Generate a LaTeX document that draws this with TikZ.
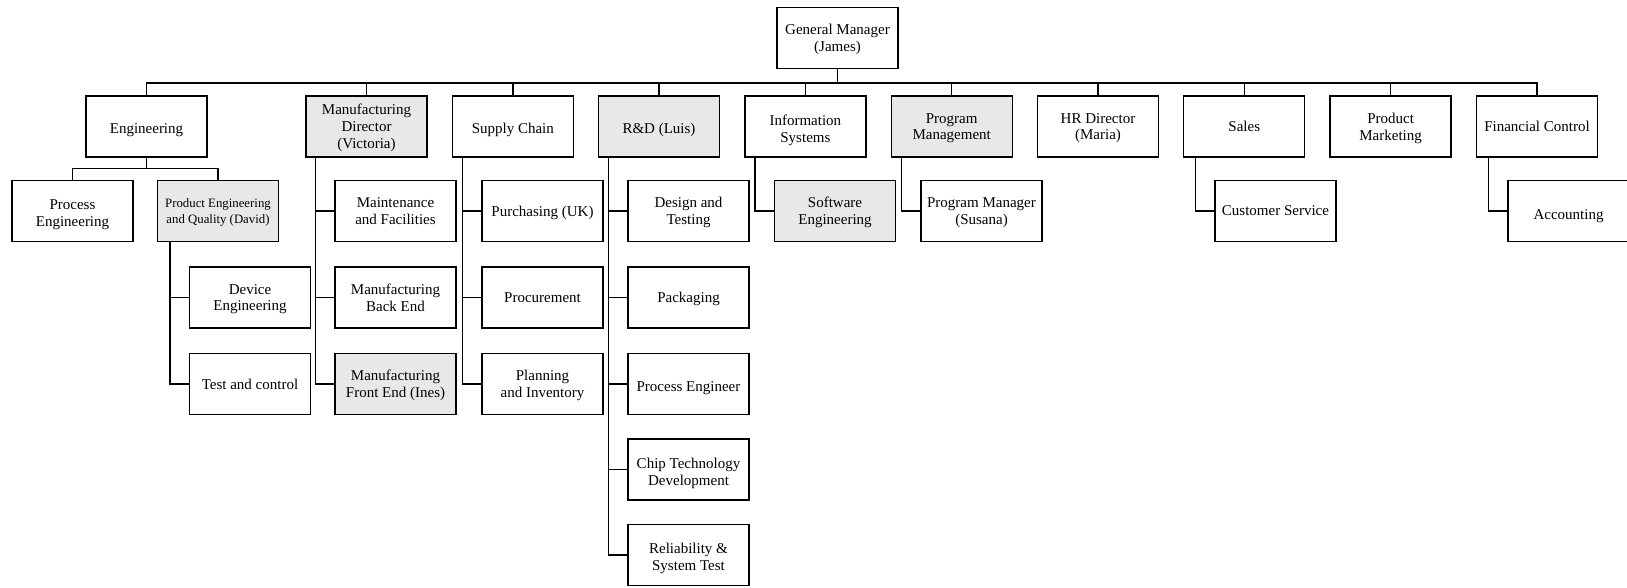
\documentclass[tikz,border=0pt]{standalone}
\usepackage{fontspec}
\setmainfont{Liberation Serif}
\definecolor{boxgray}{HTML}{E8E8E8}
\tikzset{
  unit/.style={draw, line width=1.3pt, fill=white, minimum width=121pt, minimum height=61pt,
    align=center, inner sep=2pt, text depth=0pt, font=\fontsize{15}{16.8}\selectfont},
  shaded/.style={unit, fill=boxgray},
  link/.style={line width=1.4pt},
}
\begin{document}
\begin{tikzpicture}[x=1pt, y=-1pt]
            \useasboundingbox (0,0) rectangle (1627,587);

            \node[unit] (gm) at (837.5,38) {General Manager\\(James)};

            \node[unit, text height=14pt] (eng) at (146.5,126.5) {Engineering};
            \node[shaded] (mfg) at (366.5,126.5) {Manufacturing\\Director\\(Victoria)};
            \node[unit, text height=13pt] (supply) at (512.8,126.5) {Supply Chain};
            \node[shaded, text height=13pt] (rnd) at (659,126.5) {R\&D (Luis)};
            \node[unit, text height=31pt] (infosys) at (805.4,126.5) {Information\\Systems};
            \node[shaded] (progmgmt) at (951.7,126.5) {Program\\Management};
            \node[unit] (hr) at (1098,126.5) {HR Director\\(Maria)};
            \node[unit] (sales) at (1244.3,126.5) {Sales};
            \node[unit] (prodmkt) at (1390.6,126.5) {Product\\Marketing};
            \node[unit] (fin) at (1537,126.5) {Financial Control};

            \node[unit, text height=31pt] (proceng) at (72.5,211) {Process\\Engineering};
            \node[shaded, font=\fontsize{12.8}{15.5}\selectfont] (prodeng) at (218,211) {Product Engineering\\and Quality (David)};
            \node[unit] (deveng) at (250,297.5) {Device\\Engineering};
            \node[unit] (testctl) at (250,384) {Test and control};

            \node[unit] (maint) at (395.5,211) {Maintenance\\and Facilities};
            \node[unit] (backend) at (395.5,297.5) {Manufacturing\\Back End};
            \node[shaded] (frontend) at (395.5,384) {Manufacturing\\Front End (Ines)};

            \node[unit] (purch) at (542.5,211) {Purchasing (UK)};
            \node[unit] (procure) at (542.5,297.5) {Procurement};
            \node[unit] (planning) at (542.5,384) {Planning\\and Inventory};

            \node[unit] (design) at (688.5,211) {Design and\\Testing};
            \node[unit] (packaging) at (688.5,297.5) {Packaging};
            \node[unit, text height=14pt] (procengr) at (688.5,384) {Process Engineer};
            \node[unit, text height=31pt] (chiptech) at (688.5,469.5) {Chip Technology\\Development};
            \node[unit, text height=31pt] (reliab) at (688.5,555) {Reliability \&\\System Test};

            \node[shaded] (softeng) at (835,211) {Software\\Engineering};
            \node[unit] (progmgr) at (981.5,211) {Program Manager\\(Susana)};
            \node[unit] (custserv) at (1275.5,211) {Customer Service};
            \node[unit, text height=16pt] (accounting) at (1568.5,211) {Accounting};

            \draw[link] (gm.south) -- ++(0,14) -| (eng.north);
            \draw[link] (gm.south) -- ++(0,14) -| (mfg.north);
            \draw[link] (gm.south) -- ++(0,14) -| (supply.north);
            \draw[link] (gm.south) -- ++(0,14) -| (rnd.north);
            \draw[link] (gm.south) -- ++(0,14) -| (infosys.north);
            \draw[link] (gm.south) -- ++(0,14) -| (progmgmt.north);
            \draw[link] (gm.south) -- ++(0,14) -| (hr.north);
            \draw[link] (gm.south) -- ++(0,14) -| (sales.north);
            \draw[link] (gm.south) -- ++(0,14) -| (prodmkt.north);
            \draw[link] (gm.south) -- ++(0,14) -| (fin.north);

            \draw[link] (eng.south) -- ++(0,11) -| (proceng.north);
            \draw[link] (eng.south) -- ++(0,11) -| (prodeng.north);
            \draw[link] ([xshift=-19pt]deveng.west |- prodeng.south) |- (deveng.west);
            \draw[link] ([xshift=-19pt]testctl.west |- prodeng.south) |- (testctl.west);

            \draw[link] ([xshift=-19pt]maint.west |- mfg.south) |- (maint.west);
            \draw[link] ([xshift=-19pt]backend.west |- mfg.south) |- (backend.west);
            \draw[link] ([xshift=-19pt]frontend.west |- mfg.south) |- (frontend.west);

            \draw[link] ([xshift=-19pt]purch.west |- supply.south) |- (purch.west);
            \draw[link] ([xshift=-19pt]procure.west |- supply.south) |- (procure.west);
            \draw[link] ([xshift=-19pt]planning.west |- supply.south) |- (planning.west);

            \draw[link] ([xshift=-19pt]design.west |- rnd.south) |- (design.west);
            \draw[link] ([xshift=-19pt]packaging.west |- rnd.south) |- (packaging.west);
            \draw[link] ([xshift=-19pt]procengr.west |- rnd.south) |- (procengr.west);
            \draw[link] ([xshift=-19pt]chiptech.west |- rnd.south) |- (chiptech.west);
            \draw[link] ([xshift=-19pt]reliab.west |- rnd.south) |- (reliab.west);

            \draw[link] ([xshift=-19pt]softeng.west |- infosys.south) |- (softeng.west);
            \draw[link] ([xshift=-19pt]progmgr.west |- progmgmt.south) |- (progmgr.west);
            \draw[link] ([xshift=-19pt]custserv.west |- sales.south) |- (custserv.west);
            \draw[link] ([xshift=-19pt]accounting.west |- fin.south) |- (accounting.west);
        \end{tikzpicture}
\end{document}
